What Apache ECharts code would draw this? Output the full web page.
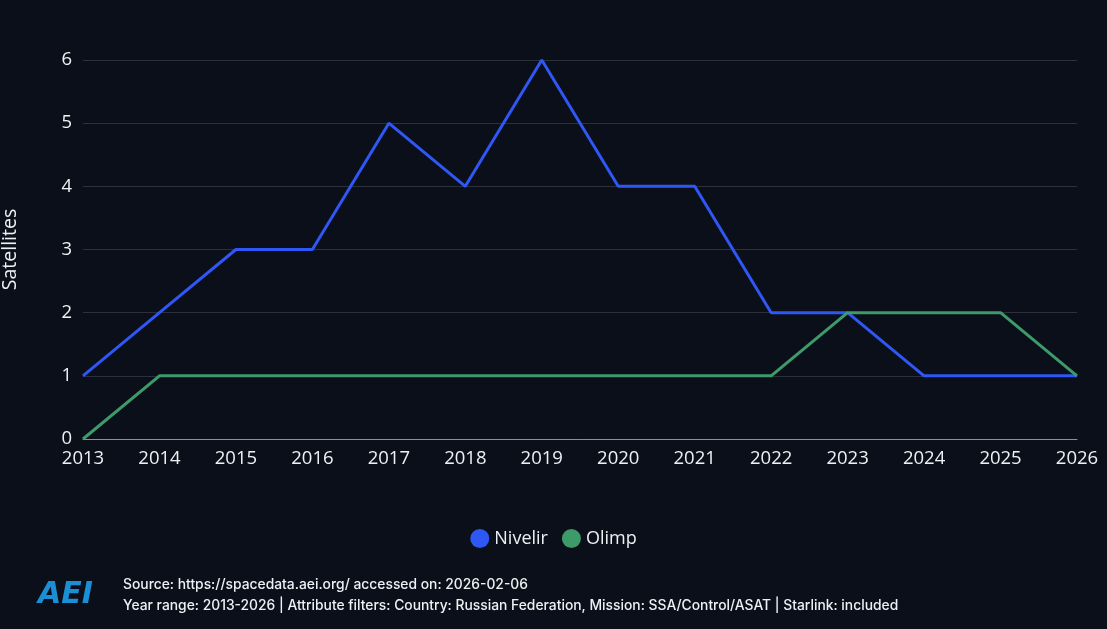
<!DOCTYPE html>
<html><head><meta charset="utf-8">
<script src="https://cdn.jsdelivr.net/npm/echarts@6/dist/echarts.min.js"></script>
<style>html,body{margin:0;padding:0;background:#0b0f19;}#c{width:1107px;height:629px;}</style>
</head><body><div id="c"></div>
<script>
const years = ['2013','2014','2015','2016','2017','2018','2019','2020','2021','2022','2023','2024','2025','2026'];
const nivelir = [1,2,3,3,5,4,6,4,4,2,2,1,1,1];
const olimp = [0,1,1,1,1,1,1,1,1,1,2,2,2,1];
const yTicks = [0,1,2,3,4,5,6];
const txt = '#eef0f4';
const chart = echarts.init(document.getElementById('c'));
chart.setOption({
  backgroundColor:'#0b0f19',
  animation:false,
  grid:{left:83,right:30,top:60,bottom:190,containLabel:false,outerBoundsMode:'none'},
  legend:{bottom:76,left:'center',icon:'circle',itemWidth:19,itemHeight:19,itemGap:14,
    textStyle:{color:txt,fontSize:18,fontFamily:'Open Sans',fontWeight:500},
    data:['Nivelir','Olimp']},
  xAxis:{type:'category',data:years,boundaryGap:false,
    axisLine:{lineStyle:{color:'#8a8f99'}},axisTick:{show:false},
    axisLabel:{color:txt,fontSize:18.5,fontFamily:'Open Sans',fontWeight:500,margin:10}},
  yAxis:{type:'value',min:0,max:6,interval:1,name:'Satellites',nameLocation:'middle',nameGap:63,
    nameTextStyle:{color:txt,fontSize:19.5,fontFamily:'Open Sans',fontWeight:500},
    axisLabel:{color:txt,fontSize:18.5,fontFamily:'Open Sans',fontWeight:500,margin:11},
    splitLine:{lineStyle:{color:'#2b303b'}}},
  series:[
    {name:'Nivelir',type:'line',data:nivelir,symbol:'none',lineStyle:{width:3,color:'#2f57f5'},itemStyle:{color:'#2f57f5'}},
    {name:'Olimp',type:'line',data:olimp,symbol:'none',lineStyle:{width:3,color:'#3d9b69'},itemStyle:{color:'#3d9b69'}}
  ],
  graphic:[
    {type:'text',left:38,top:580,style:{text:'AEI',fill:'#1a8fd6',font:'italic bold 30px DejaVu Sans'}},
    {type:'text',left:123,top:578,style:{text:'Source: https://spacedata.aei.org/ accessed on: 2026-02-06',fill:txt,font:'500 13.85px Inter'}},
    {type:'text',left:123,top:599,style:{text:'Year range: 2013-2026 | Attribute filters: Country: Russian Federation, Mission: SSA/Control/ASAT | Starlink: included',fill:txt,font:'500 13.85px Inter'}}
  ]
});
</script></body></html>
